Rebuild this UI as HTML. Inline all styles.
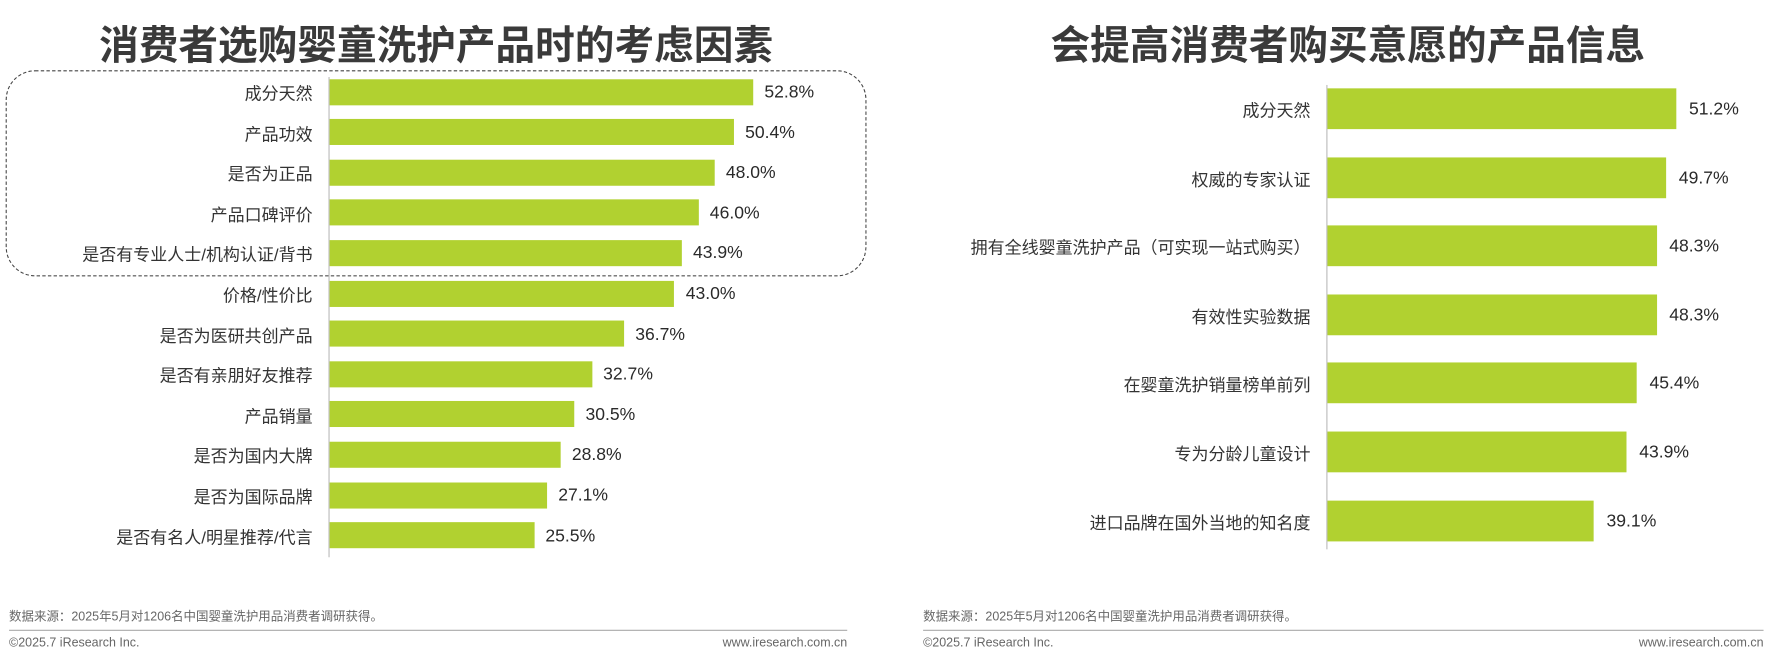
<!DOCTYPE html>
<html><head><meta charset="utf-8"><style>
html,body{margin:0;padding:0;background:#fff;width:1776px;height:662px;overflow:hidden}
#w{position:absolute;left:0;top:0;width:1568px;height:584px;transform:scale(1.13265);transform-origin:0 0;font-family:"Liberation Sans","Noto Sans CJK SC",sans-serif;color:#333}
.t{position:absolute;font-weight:bold;font-size:35px;color:#3a3a3a;text-align:center;white-space:nowrap}
.l{position:absolute;font-size:15px;text-align:right;white-space:nowrap;color:#333}
.v{position:absolute;font-size:15.5px;white-space:nowrap;color:#2a2a2a}
.b{position:absolute;background:#b1d130}
.ax{position:absolute;width:1px;background:#bbb}
.s{position:absolute;font-size:11px;color:#666;white-space:nowrap}
.hr{position:absolute;height:1px;background:#aaa}
</style></head><body><div id="w">
<div class="t" style="left:0;width:770px;top:12px">消费者选购婴童洗护产品时的考虑因素</div>
<div class="t" style="left:800px;width:780px;top:12px">会提高消费者购买意愿的产品信息</div>
<div style="position:absolute;left:5px;top:62px;width:758px;height:180px;border:1.5px dashed #444;border-radius:26px"></div>
<div class="ax" style="left:290px;top:68px;height:424px"></div>
<div class="ax" style="left:1171px;top:75px;height:410px"></div>
<div id="L"></div>
<div class="s" style="left:8px;top:536px">数据来源：2025年5月对1206名中国婴童洗护用品消费者调研获得。</div>
<div class="s" style="left:815px;top:536px">数据来源：2025年5月对1206名中国婴童洗护用品消费者调研获得。</div>
<div class="hr" style="left:8px;width:740px;top:556px"></div>
<div class="hr" style="left:815px;width:742px;top:556px"></div>
<div class="s" style="left:8px;top:562px">©2025.7 iResearch Inc.</div>
<div class="s" style="left:815px;top:562px">©2025.7 iResearch Inc.</div>
<div class="s" style="left:600px;width:148px;text-align:right;top:562px">www.iresearch.com.cn</div>
<div class="s" style="left:1400px;width:157px;text-align:right;top:562px">www.iresearch.com.cn</div>
</div>
<script>
var L=[["成分天然",52.8],["产品功效",50.4],["是否为正品",48.0],["产品口碑评价",46.0],["是否有专业人士/机构认证/背书",43.9],["价格/性价比",43.0],["是否为医研共创产品",36.7],["是否有亲朋好友推荐",32.7],["产品销量",30.5],["是否为国内大牌",28.8],["是否为国际品牌",27.1],["是否有名人/明星推荐/代言",25.5]];
var R=[["成分天然",51.2],["权威的专家认证",49.7],["拥有全线婴童洗护产品（可实现一站式购买）",48.3],["有效性实验数据",48.3],["在婴童洗护销量榜单前列",45.4],["专为分龄儿童设计",43.9],["进口品牌在国外当地的知名度",39.1]];
var h="";
L.forEach(function(d,i){var c=81+i*35.6,w=d[1]*7.08;
h+='<div class="b" style="left:291px;top:'+(c-11.5)+'px;width:'+w+'px;height:23px"></div>';
h+='<div class="l" style="right:'+(1568-276)+'px;top:'+(c-9)+'px">'+d[0]+'</div>';
h+='<div class="v" style="left:'+(291+w+10)+'px;top:'+(c-8)+'px">'+d[1].toFixed(1)+'%</div>';});
R.forEach(function(d,i){var c=96+i*60.6,w=d[1]*6.02;
h+='<div class="b" style="left:1172px;top:'+(c-18)+'px;width:'+w+'px;height:36px"></div>';
h+='<div class="l" style="right:'+(1568-1157)+'px;top:'+(c-9)+'px">'+d[0]+'</div>';
h+='<div class="v" style="left:'+(1172+w+11)+'px;top:'+(c-8)+'px">'+d[1].toFixed(1)+'%</div>';});
document.getElementById("L").outerHTML=h;
</script>
</body></html>
